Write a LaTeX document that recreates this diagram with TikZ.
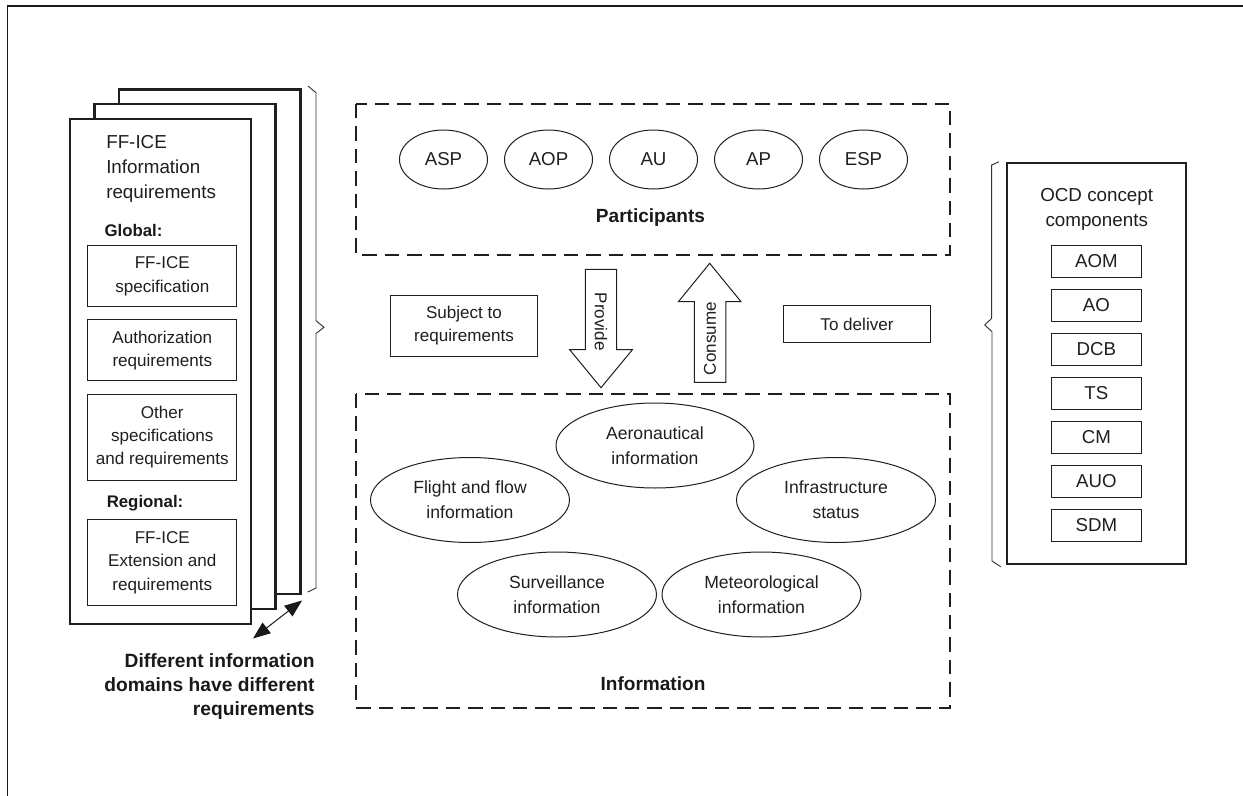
\documentclass[tikz,border=0pt]{standalone}
\usepackage{fontspec}
\setmainfont{Liberation Sans}
\usetikzlibrary{arrows.meta,shapes.geometric}
\tikzset{
  x=0.75pt,y=-0.75pt,
  ink/.style={draw=black!88},
  size/.style 2 args={minimum width=#1*0.75pt,minimum height=#2*0.75pt},
  sheet/.style={ink,line width=1.6pt,fill=white},
  sub/.style={ink,line width=0.75pt,fill=white,align=center,inner sep=0pt,font=\fontsize{12.8}{17.3}\selectfont,text=black!88},
  comp/.style={sub,font=\fontsize{14}{17}\selectfont},
  oval/.style={ellipse,ink,line width=0.75pt,align=center,inner sep=0pt,font=\fontsize{13.2}{18.75}\selectfont,text=black!88},
  pill/.style={oval,font=\fontsize{14}{17}\selectfont},
  zone/.style={ink,line width=1.5pt,dash pattern=on 10.8pt off 6pt},
  brace/.style={draw=black!80,line width=0.7pt},
  lab/.style={align=center,inner sep=0pt,font=\fontsize{12.8}{17.3}\selectfont,text=black!88},
  big/.style={lab,font=\fontsize{14.1}{18.75}\selectfont},
  blab/.style={align=right,inner sep=0pt,font=\fontsize{14.4}{18}\selectfont\bfseries,text=black!90},
  hd/.style={inner sep=0pt,font=\fontsize{12.6}{15}\selectfont\bfseries,text=black!90},
  zt/.style={inner sep=0pt,font=\fontsize{14.3}{17}\selectfont\bfseries,text=black!90},
  arrowshape/.style={ink,line width=0.75pt,fill=white}
}
\begin{document}
\begin{tikzpicture}
\useasboundingbox (0,0) rectangle (1243,796);
\draw[line width=1pt,black!90] (7.5,796) -- (7.5,6) -- (1243,6);
% stacked sheets
\draw[sheet] (119,89.5) rectangle (300.5,594);
\draw[sheet] (94.5,104) rectangle (275.5,609);
\draw[sheet] (70,119.3) rectangle (251,623.7);
\node[big,anchor=west,align=left] (title) at (106,168.5) {FF-ICE\\Information\\requirements};
\node[hd,anchor=west] (global) at (104.3,230.7) {Global:};
\node[hd,anchor=west] (regional) at (106.5,503) {Regional:};
\node[sub,size={148.7}{60.7}] (s1) at (162.3,276.3) {FF-ICE\\specification};
\node[sub,size={148.7}{60.7}] (s2) at (162.3,350.3) {Authorization\\requirements};
\node[sub,size={148.7}{86}] (s3) at (162.3,437) {Other\\specifications\\and requirements};
\node[sub,size={148.7}{85.7}] (s4) at (162.3,562.8) {FF-ICE\\Extension and\\requirements};
\coordinate (da) at (253,638.5);
\coordinate (db) at (302,600.5);
\draw[black!90,line width=0.75pt,{Triangle[length=13pt,width=10pt]}-{Triangle[length=13pt,width=10pt]}] (da) -- (db);
\node[blab,anchor=center] (note) at (209.5,686.5) {\hfill Different information\\\hfill domains have different\\\hfill requirements};
% left brace
\draw[brace] (308,86) -- (316,92.7) -- (316,320.7) -- (324,327.3) -- (316,333.5) -- (316,588) -- (307.7,592);
% participants
\draw[zone] (356,104) rectangle (950,254.5);
\foreach \n/\t/\x in {a/ASP/443.5,b/AOP/548.5,c/AU/653.5,d/AP/758.5,e/ESP/863.5}
  \node[pill,size={88}{59}] (\n) at (\x,159.5) {\t};
\node[zt] (part) at (650.5,218) {Participants};
% middle
\node[sub,size={147.5}{61}] (subj) at (464,326) {Subject to\\requirements};
\node[sub,size={147.5}{37}] (deliv) at (857,324.2) {To deliver};
\draw[arrowshape] (585.4,269.3) -- (616.7,269.3) -- (616.7,349.7) -- (632.4,349.7) -- (601,387.7) -- (569.7,349.7) -- (585.4,349.7) -- cycle;
\node[lab,rotate=-90] (prov) at (601,321.7) {Provide};
\draw[arrowshape] (694.4,382.3) -- (725.8,382.3) -- (725.8,301.7) -- (741,301.7) -- (709.7,263.3) -- (678.4,301.7) -- (694.4,301.7) -- cycle;
\node[lab,rotate=90] (cons) at (710,338.7) {Consume};
% information
\draw[zone] (356,394) rectangle (950,707.5);
\node[oval,size={198}{85}] (o1) at (655,445.5) {Aeronautical\\information};
\node[oval,size={199}{85}] (o2) at (470,500) {Flight and flow\\information};
\node[oval,size={199}{85}] (o3) at (836,500) {Infrastructure\\status};
\node[oval,size={199}{85}] (o4) at (557,594.5) {Surveillance\\information};
\node[oval,size={199}{85}] (o5) at (761.5,594.5) {Meteorological\\information};
\node[zt] (inf) at (653,683.5) {Information};
% right
\draw[brace] (999,161.7) -- (991.7,165) -- (991.7,318.3) -- (984.7,325) -- (992,331.7) -- (992,561) -- (1000.7,566.7);
\draw[ink,line width=1.6pt] (1006.7,163.3) rectangle (1185.7,564.3);
\node[big] (ocd) at (1096.7,209) {OCD concept\\components};
\foreach \n/\t/\y in {r1/AOM/261.3,r2/AO/305.2,r3/DCB/349.2,r4/TS/393.3,r5/CM/437.5,r6/AUO/481.3,r7/SDM/525.5}
  \node[comp,size={90.7}{32}] (\n) at (1096.4,\y) {\t};
\end{tikzpicture}
\end{document}
